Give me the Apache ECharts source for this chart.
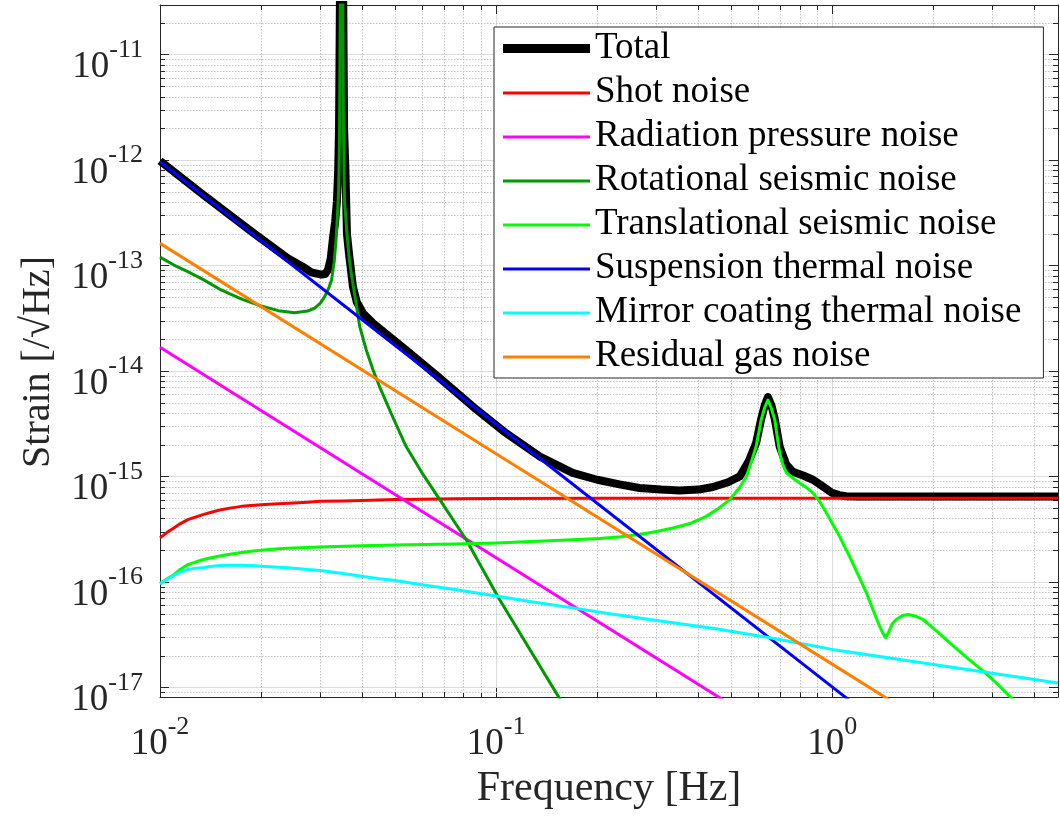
<!DOCTYPE html>
<html><head><meta charset="utf-8">
<script src="https://cdn.jsdelivr.net/npm/echarts@6/dist/echarts.min.js"></script>
<style>html,body{margin:0;padding:0;background:#fff}#c{width:1060px;height:819px}</style>
</head><body><div id="c"></div>
<script>
// ---------------- data ----------------
const seriesNames = ['Total','Shot noise','Radiation pressure noise','Rotational seismic noise',
  'Translational seismic noise','Suspension thermal noise','Mirror coating thermal noise','Residual gas noise'];
const seriesColors = ['#000000','#ff0000','#ff00ff','#009900','#00ff00','#0000ff','#00ffff','#ff8000'];

const fTotal = [0.01,0.01355,0.0191,0.024,0.0265,0.0282,0.0302,0.031,0.0316,0.0322,0.0327,0.0332,0.0336,0.0339,0.0341,0.0343,0.0347,0.0351,0.0353,0.0356,0.036,0.0365,0.0369,0.0375,0.0385,0.0402,0.043,0.054,0.068,0.0853,0.107,0.1346,0.169,0.2,0.233,0.267,0.31,0.351,0.4,0.442,0.49,0.531,0.565,0.594,0.615,0.63,0.644,0.66,0.675,0.698,0.73,0.764,0.82,0.877,0.94,1.0,1.05,1.1,1.2,2,4.7];
const total = [9.8e-13,4.6e-13,2.0e-13,1.17e-13,9.8e-14,8.6e-14,8.2e-14,8.3e-14,9.06e-14,1.15e-13,1.8e-13,2.6e-13,4e-13,8e-13,2e-12,3e-11,3e-10,3e-11,2e-12,8.6e-13,2e-13,1.3e-13,9.75e-14,6.3e-14,4.5e-14,3.52e-14,2.84e-14,1.58e-14,8.55e-15,4.6e-15,2.58e-15,1.55e-15,1.08e-15,9.3e-16,8.4e-16,7.76e-16,7.5e-16,7.36e-16,7.5e-16,7.94e-16,8.8e-16,1.0e-15,1.4e-15,2.07e-15,3.5e-15,4.7e-15,5.65e-15,4.7e-15,3.5e-15,1.92e-15,1.3e-15,1.11e-15,1.02e-15,9.3e-16,8.0e-16,6.97e-16,6.65e-16,6.5e-16,6.46e-16,6.45e-16,6.45e-16];

const fShot = [0.01,0.0105,0.011,0.0115,0.0121,0.0128,0.0135,0.0143,0.0152,0.0163,0.0175,0.0187,0.02,0.0225,0.025,0.0275,0.03,0.035,0.04,0.05,0.06,0.075,0.1,0.2,0.5,1,2,4.7];
const shot = [2.61e-16,2.95e-16,3.25e-16,3.57e-16,3.89e-16,4.14e-16,4.37e-16,4.6e-16,4.84e-16,5.03e-16,5.2e-16,5.3e-16,5.39e-16,5.5e-16,5.6e-16,5.7e-16,5.8e-16,5.86e-16,5.9e-16,6.03e-16,6.08e-16,6.13e-16,6.17e-16,6.2e-16,6.2e-16,6.2e-16,6.2e-16,6.2e-16];

const fRad = [0.01,0.1,0.5];
const radiation = [1.68e-14,1.69e-16,6.83e-18];

const fRot = [0.01,0.011,0.0121,0.0135,0.0152,0.0175,0.02,0.0225,0.0251,0.0275,0.0288,0.03,0.0309,0.0317,0.0324,0.033,0.0334,0.0337,0.034,0.0342,0.0344,0.0347,0.035,0.03515,0.0354,0.036,0.0366,0.0372,0.0379,0.0393,0.0411,0.043,0.045,0.049,0.054,0.06,0.068,0.0815,0.1024,0.153,0.165];
const rotational = [1.2e-13,1.01e-13,8.73e-14,7.3e-14,5.86e-14,4.79e-14,4.13e-14,3.73e-14,3.57e-14,3.7e-14,3.93e-14,4.4e-14,5.07e-14,6.0e-14,7.3e-14,1.1e-13,1.75e-13,2.8e-13,5.19e-13,1.55e-12,3e-11,3e-10,3e-11,1.79e-12,4.17e-13,2.0e-13,1.13e-13,7.8e-14,5.46e-14,2.63e-14,1.58e-14,1.03e-14,7.11e-15,3.8e-15,1.92e-15,1.1e-15,6.03e-16,2.51e-16,6.8e-17,8.26e-18,5.5e-18];

const fTrans = [0.01,0.0105,0.011,0.0115,0.0121,0.0128,0.0135,0.0143,0.0152,0.0163,0.0175,0.0187,0.02,0.0225,0.025,0.03,0.04,0.05,0.075,0.1,0.169,0.203,0.235,0.267,0.3,0.336,0.38,0.422,0.46,0.496,0.53,0.556,0.576,0.594,0.605,0.615,0.63,0.644,0.658,0.675,0.686,0.698,0.713,0.731,0.765,0.8,0.84,0.877,0.92,0.962,1.005,1.052,1.09,1.127,1.19,1.265,1.33,1.384,1.42,1.443,1.47,1.51,1.552,1.62,1.682,1.76,1.864,2.05,2.24,2.5,2.81,3.1,3.37,3.7];
const translational = [9.6e-17,1.07e-16,1.17e-16,1.32e-16,1.46e-16,1.55e-16,1.63e-16,1.7e-16,1.77e-16,1.84e-16,1.9e-16,1.95e-16,2.0e-16,2.06e-16,2.1e-16,2.14e-16,2.2e-16,2.24e-16,2.29e-16,2.34e-16,2.51e-16,2.58e-16,2.68e-16,2.81e-16,3.0e-16,3.24e-16,3.6e-16,4.18e-16,5.0e-16,6.03e-16,7.8e-16,1.0e-15,1.4e-15,1.92e-15,2.6e-15,3.44e-15,4.5e-15,5.3e-15,4.5e-15,3.44e-15,2.4e-15,1.67e-15,1.3e-15,1.08e-15,9.6e-16,8.67e-16,7.8e-16,6.97e-16,5.7e-16,4.5e-16,3.5e-16,2.7e-16,2.15e-16,1.74e-16,1.2e-16,7.87e-17,5.2e-17,3.8e-17,3.2e-17,2.95e-17,3.3e-17,4.0e-17,4.4e-17,4.8e-17,4.9e-17,4.75e-17,4.4e-17,3.4e-17,2.64e-17,1.95e-17,1.43e-17,1.08e-17,8.26e-18,6.3e-18];

const fSusp = [0.01,0.1,1,1.2];
const suspension = [9.6e-13,3.12e-15,1.01e-17,6.43e-18];

const fMirror = [0.01,0.0105,0.011,0.0115,0.0121,0.0128,0.0135,0.0143,0.0152,0.0163,0.0175,0.0187,0.02,0.0225,0.025,0.0275,0.03,0.035,0.0397,0.045,0.05,0.06,0.0752,0.1,0.13,0.169,0.22,0.286,0.336,0.45,0.652,1.0,2.0,4.7];
const mirror = [9.6e-17,1.06e-16,1.15e-16,1.24e-16,1.31e-16,1.35e-16,1.37e-16,1.41e-16,1.43e-16,1.44e-16,1.44e-16,1.43e-16,1.41e-16,1.38e-16,1.35e-16,1.31e-16,1.28e-16,1.2e-16,1.13e-16,1.07e-16,1.03e-16,9.4e-17,8.45e-17,7.35e-17,6.4e-17,5.67e-17,4.95e-17,4.4e-17,4.09e-17,3.6e-17,2.95e-17,2.29e-17,1.65e-17,1.1e-17];

const fGas = [0.01,0.1,1,1.6];
const residualGas = [1.62e-13,1.64e-15,1.66e-17,6.5e-18];

const xTickExponents = [-2,-1,0];
const yTickExponents = [-17,-16,-15,-14,-13,-12,-11];
const xLabel = 'Frequency [Hz]';
const yLabel = 'Strain [/\u221AHz]';

// ---------------- chart ----------------
const FONT = 'Liberation Serif';
const AX = '#262626';
const X_MIN = 0.01, X_MAX = 4.7, Y_MIN = 8.1e-18, Y_MAX = 2.95e-11;

const pairs = (f, v) => f.map((x, i) => [x, v[i]]);
const seriesData = [pairs(fTotal,total), pairs(fShot,shot), pairs(fRad,radiation), pairs(fRot,rotational),
  pairs(fTrans,translational), pairs(fSusp,suspension), pairs(fMirror,mirror), pairs(fGas,residualGas)];

function powLabel(v, exps) {
  const l = Math.log10(v), e = Math.round(l);
  if (Math.abs(l - e) > 1e-3 || exps.indexOf(e) < 0) return '';
  return '{b|10}{s|' + e + '}';
}
const richLabel = {
  b: {fontFamily: FONT, fontSize: 37, color: AX, padding: [14,0,0,0], verticalAlign: 'bottom'},
  s: {fontFamily: FONT, fontSize: 26, color: AX, padding: [2,0,0,0], verticalAlign: 'top'}
};

// minor tick positions (2..9 in every decade)
const xMinor = [], yMinor = [];
for (let e = -2; e <= 0; e++) for (let k = 2; k <= 9; k++) { const v = k * Math.pow(10, e); if (v < X_MAX) xMinor.push(v); }
for (let e = -18; e <= -11; e++) for (let k = 2; k <= 9; k++) { const v = k * Math.pow(10, e); if (v > Y_MIN && v < Y_MAX) yMinor.push(v); }

const MINOR_GRID = {stroke: '#c4c4c4', lineWidth: 1, lineDash: [1.5, 1.5]};
const TICK = {stroke: AX, lineWidth: 1};

const minorX = {
  type: 'custom', silent: true, z: 1, animation: false,
  data: xMinor.map(v => [v, 1e-14]),
  renderItem: (params, api) => {
    const cs = params.coordSys;
    const x = Math.round(api.coord([api.value(0), api.value(1)])[0]) + 0.5;
    const y0 = cs.y, y1 = cs.y + cs.height;
    return {type: 'group', children: [
      {type: 'line', shape: {x1: x, y1: y0, x2: x, y2: y1}, style: MINOR_GRID},
      {type: 'line', shape: {x1: x, y1: y1, x2: x, y2: y1 - 5}, style: TICK},
      {type: 'line', shape: {x1: x, y1: y0, x2: x, y2: y0 + 5}, style: TICK}
    ]};
  }
};
const minorY = {
  type: 'custom', silent: true, z: 1, animation: false,
  data: yMinor.map(v => [0.1, v]),
  renderItem: (params, api) => {
    const cs = params.coordSys;
    const y = Math.round(api.coord([api.value(0), api.value(1)])[1]) + 0.5;
    const x0 = cs.x, x1 = cs.x + cs.width;
    return {type: 'group', children: [
      {type: 'line', shape: {x1: x0, y1: y, x2: x1, y2: y}, style: MINOR_GRID},
      {type: 'line', shape: {x1: x0, y1: y, x2: x0 + 5, y2: y}, style: TICK},
      {type: 'line', shape: {x1: x1, y1: y, x2: x1 - 5, y2: y}, style: TICK}
    ]};
  }
};

const lineSeries = seriesNames.map((name, i) => ({
  name, type: 'line', data: seriesData[i],
  showSymbol: false, symbol: 'none', smooth: false,
  lineStyle: {color: seriesColors[i], width: i === 0 ? 8 : 3, join: 'round', cap: 'butt'},
  itemStyle: {color: seriesColors[i]},
  z: 3 + i, animation: false, clip: true
}));

const THIN_ICON = 'path://M0,0L0.01,0M0,9L0.01,9M0,3.5H87V6.5H0Z';
const legendData = seriesNames.map((name, i) => ({name, icon: i === 0 ? 'rect' : THIN_ICON}));

const baseAxisX = {type: 'log', logBase: 10, min: X_MIN, max: X_MAX, gridIndex: 0};
const baseAxisY = {type: 'log', logBase: 10, min: Y_MIN, max: Y_MAX, gridIndex: 0};

const option = {
  backgroundColor: '#ffffff',
  animation: false,
  textStyle: {fontFamily: FONT},
  grid: {left: 160, right: 2, top: 5, bottom: 122, containLabel: false},
  xAxis: [
    Object.assign({}, baseAxisX, {
      position: 'bottom',
      name: xLabel, nameLocation: 'middle', nameGap: 63,
      nameTextStyle: {fontFamily: FONT, fontSize: 42, color: AX},
      axisLine: {show: true, lineStyle: {color: AX, width: 1}},
      axisTick: {show: true, inside: true, length: 9, lineStyle: {color: AX}},
      axisLabel: {show: true, margin: 15, fontFamily: FONT, fontSize: 37, showMaxLabel: false, formatter: v => powLabel(v, xTickExponents), rich: richLabel},
      splitLine: {show: true, lineStyle: {color: '#dcdcdc', width: 1}}
    }),
    Object.assign({}, baseAxisX, {
      position: 'top',
      axisLine: {show: true, lineStyle: {color: AX, width: 1}},
      axisTick: {show: true, inside: true, length: 9, lineStyle: {color: AX}},
      axisLabel: {show: false}, splitLine: {show: false}
    })
  ],
  yAxis: [
    Object.assign({}, baseAxisY, {
      position: 'left',
      name: yLabel, nameLocation: 'middle', nameGap: 102, nameRotate: 90,
      nameTextStyle: {fontFamily: FONT, fontSize: 40, color: AX, padding: [0, 22, 0, 0]},
      axisLine: {show: true, lineStyle: {color: AX, width: 1}},
      axisTick: {show: true, inside: true, length: 9, lineStyle: {color: AX}},
      axisLabel: {show: true, margin: 17, fontFamily: FONT, fontSize: 37, showMaxLabel: false, showMinLabel: false, padding: [12,0,0,0],
        formatter: v => powLabel(v, yTickExponents), rich: richLabel},
      splitLine: {show: true, lineStyle: {color: '#dcdcdc', width: 1}}
    }),
    Object.assign({}, baseAxisY, {
      position: 'right',
      axisLine: {show: true, lineStyle: {color: AX, width: 1}},
      axisTick: {show: true, inside: true, length: 9, lineStyle: {color: AX}},
      axisLabel: {show: false}, splitLine: {show: false}
    })
  ],
  legend: {
    orient: 'vertical', left: 494, top: 27,
    data: legendData,
    itemWidth: 87, itemHeight: 9, itemGap: 7,
    padding: [3, 22, 3, 9],
    backgroundColor: '#ffffff', borderColor: '#262626', borderWidth: 1, borderRadius: 0,
    itemStyle: {borderWidth: 0},
    textStyle: {fontFamily: FONT, fontSize: 37, color: '#000'},
    selectedMode: false, z: 20
  },
  series: [minorX, minorY].concat(lineSeries)
};

const chart = echarts.init(document.getElementById('c'), null, {renderer: 'canvas'});
chart.setOption(option);
</script>
</body></html>
